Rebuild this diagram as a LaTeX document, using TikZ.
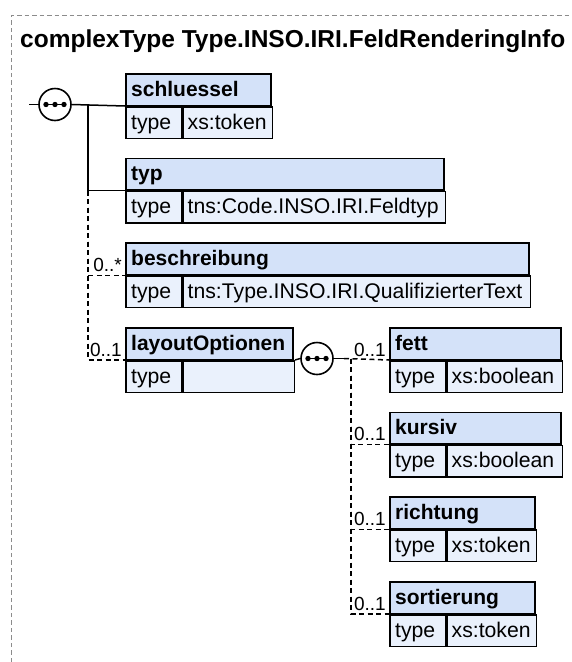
\documentclass[tikz,border=0pt]{standalone}
\usepackage{fontspec}
\setmainfont{Liberation Sans}
\usetikzlibrary{calc}
\definecolor{hdrblue}{RGB}{212,226,249}
\definecolor{rowblue}{RGB}{234,241,252}
\definecolor{framegray}{RGB}{140,140,140}
\newcommand\hfont{\bfseries\fontsize{21}{25}\selectfont}
\newcommand\tfont{\fontsize{21.2}{25}\selectfont}
\newcommand\mfont{\fontsize{19}{22}\selectfont}
\newcommand\ttlfont{\bfseries\fontsize{24.5}{28}\selectfont}
\tikzset{
  hdr/.style={draw=black, line width=1.5pt, fill=hdrblue, minimum height=31.5pt, inner sep=0pt, anchor=north west},
  rowc/.style={draw=black, line width=1.5pt, fill=rowblue, minimum height=31.5pt, inner sep=0pt, anchor=north west},
  htext/.style={anchor=base west, inner sep=0pt, font=\hfont},
  ttext/.style={anchor=base west, inner sep=0pt, font=\tfont},
  mult/.style={anchor=base east, inner sep=0pt, font=\mfont},
  conn/.style={draw=black, line width=1.5pt},
  dconn/.style={draw=black, line width=1.5pt, dash pattern=on 5pt off 3.5pt},
  seqc/.style={circle, draw=black, line width=1.6pt, fill=white, minimum size=32pt, inner sep=0pt},
  frame/.style={draw=framegray, line width=1pt, dash pattern=on 4.5pt off 3pt},
}
\newcommand\xsdbox[6]{%
  \node[hdr, minimum width=#4pt] (#1) at (#2,#3) {};
  \node[rowc, minimum width=56pt] (#1-k) at (#1.south west) {};
  \node[rowc, minimum width=#4pt-56pt] (#1-v) at (#1-k.north east) {};
  \node[htext] (#1-h) at ([xshift=6pt,yshift=-23pt]#1.north west) {#5};
  \node[ttext] (#1-kt) at ([xshift=6pt,yshift=-23pt]#1-k.north west) {type};
  \node[ttext] (#1-vt) at ([xshift=5pt,yshift=-23pt]#1-v.north west) {#6};
}
\newcommand\seqdots[1]{%
  \draw[line width=1.5pt] ([xshift=-9pt]#1.center) -- ([xshift=9pt]#1.center);
  \fill ([xshift=-9pt]#1.center) circle (2.7pt);
  \fill (#1.center) circle (2.7pt);
  \fill ([xshift=9pt]#1.center) circle (2.7pt);
}
\begin{document}
\begin{tikzpicture}[x=1pt,y=-1pt]
\useasboundingbox (0,0) rectangle (571,662);
\draw[frame] (11.5,662) -- (11.5,15) -- (571,15);
\node[anchor=base west, inner sep=0pt, font=\ttlfont] (title) at (20,47) {complexType Type.INSO.IRI.FeldRenderingInfo};

% boxes
\xsdbox{schluessel}{125}{73}{145}{schluessel}{xs:token}
\xsdbox{typ}{125}{157.7}{318}{typ}{tns:Code.INSO.IRI.Feldtyp}
\xsdbox{beschreibung}{125}{242.3}{403}{beschreibung}{tns:Type.INSO.IRI.QualifizierterText}
\xsdbox{layoutOptionen}{125}{327}{167}{layoutOptionen}{}
\xsdbox{fett}{389}{327}{171}{fett}{xs:boolean}
\xsdbox{kursiv}{389}{411.7}{171}{kursiv}{xs:boolean}
\xsdbox{richtung}{389}{496.3}{145}{richtung}{xs:token}
\xsdbox{sortierung}{389}{581}{145}{sortierung}{xs:token}

% first sequence
\node[seqc] (seq1) at (55,104.5) {};
\seqdots{seq1}
\coordinate (in1) at (29,104.5);
\coordinate (v1) at (88,104.5);
\draw[conn] (in1) -- (seq1.west);
\draw[conn] (seq1.east) -- (schluessel.south west);
\draw[conn] (v1) |- (typ.south west);
\draw[dconn] (v1 |- typ.south west) |- (beschreibung.south west);
\draw[dconn] (v1 |- typ.south west) |- (layoutOptionen.south west);
\node[mult] (m-besch) at ([xshift=-3pt,yshift=4pt]beschreibung.south west) {0..*};
\node[mult] (m-layout) at ([xshift=-3pt,yshift=4pt]layoutOptionen.south west) {0..1};

% second sequence
\node[seqc] (seq2) at (317,358.5) {};
\seqdots{seq2}
\draw[conn] (layoutOptionen-v.north east) -- (seq2.west);
\coordinate (stub2) at (344,358.5);
\coordinate (v2) at (351,358.5);
\draw[conn] (seq2.east) -- (stub2);
\draw[dconn] (stub2) -- (fett.south west);
\draw[dconn] (v2) |- (kursiv.south west);
\draw[dconn] (v2) |- (richtung.south west);
\draw[dconn] (v2) |- (sortierung.south west);
\node[mult] (m-fett) at ([xshift=-3pt,yshift=4pt]fett.south west) {0..1};
\node[mult] (m-kursiv) at ([xshift=-3pt,yshift=4pt]kursiv.south west) {0..1};
\node[mult] (m-richtung) at ([xshift=-3pt,yshift=4pt]richtung.south west) {0..1};
\node[mult] (m-sort) at ([xshift=-3pt,yshift=4pt]sortierung.south west) {0..1};
\end{tikzpicture}
\end{document}
